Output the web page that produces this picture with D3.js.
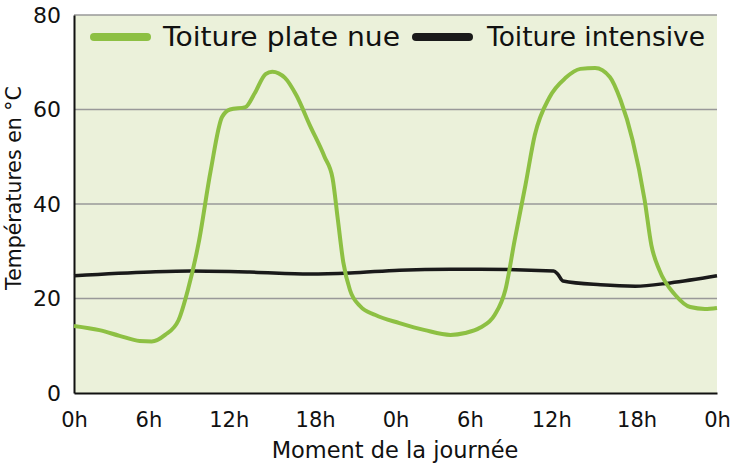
<!DOCTYPE html>
<html><head><meta charset="utf-8">
<script src="https://cdn.jsdelivr.net/npm/d3@7"></script>
<style>body{margin:0;background:#fff}svg{display:block}text{font-family:"DejaVu Sans",sans-serif;fill:#111}</style>
</head><body><svg id="c" width="733" height="468"></svg>
<script>
const xTickValues = [0, 6, 12, 18, 24, 30, 36, 42, 48];
const xTickLabels = ["0h", "6h", "12h", "18h", "0h", "6h", "12h", "18h", "0h"];
const yTickValues = [0, 20, 40, 60, 80];
const seriesNames = ["Toiture plate nue", "Toiture intensive"];
const seriesColors = ["#8dc043", "#1a1a1a"];
const plateHours = [0, 1.9, 3.4, 4.9, 5.8, 6.8, 7.8, 8.5, 9.3, 10.2, 11.05, 11.65, 12.8, 13.5, 14.3, 14.8, 15.75, 16.6, 17.6, 18.7, 19.3, 19.7, 20.1, 20.6, 21.35, 22.5, 24.3, 26.2, 28.1, 29.2, 30.3, 31.4, 32.2, 32.9, 33.7, 34.4, 35.5, 36.7, 37.8, 38.9, 40, 40.8, 41.7, 42.6, 43.1, 43.7, 44.9, 46, 47.1, 48];
const plateTemps = [14.2, 13.3, 12.1, 11, 10.9, 12.3, 15.4, 21.8, 31.7, 47, 58.4, 60, 60.5, 63.5, 67.5, 68, 66.7, 63, 56.7, 50, 45.5, 36.6, 27.7, 21.8, 18.4, 16.5, 14.8, 13.3, 12.3, 12.7, 13.8, 16.5, 21.8, 32.4, 44, 54.6, 62.6, 66.7, 68.6, 68.8, 66.9, 62, 53.5, 40.8, 31.3, 26, 20.7, 18.2, 17.8, 18];
const intensiveHours = [0, 5.7, 8.7, 13.1, 17.6, 20.6, 24.3, 28.1, 30.3, 35.8, 36.1, 36.5, 39.3, 41.9, 44.5, 48];
const intensiveTemps = [24.8, 25.6, 25.8, 25.6, 25.2, 25.4, 26, 26.2, 26.2, 25.8, 25.2, 23.7, 22.9, 22.6, 23.3, 24.8];

const svg = d3.select("#c");
const L = 74, R = 717, T = 15, B = 393;
const x = d3.scaleLinear().domain([0, 48]).range([L, R]);
const y = d3.scaleLinear().domain([0, 80]).range([B, T]);

svg.append("rect").attr("x", L).attr("y", T).attr("width", R - L).attr("height", B - T).attr("fill", "#ebf1da");
svg.append("line").attr("x1", L).attr("x2", R).attr("y1", T).attr("y2", T).attr("stroke", "#999").attr("stroke-width", 1.5);
svg.append("g").selectAll("line").data(yTickValues.filter(v => v > 0 && v < 80)).join("line")
  .attr("x1", L).attr("x2", R).attr("y1", d => y(d)).attr("y2", d => y(d)).attr("stroke", "#999").attr("stroke-width", 1.5);

const yAxis = d3.axisLeft(y).tickValues(yTickValues).tickSize(0).tickPadding(13);
const ga = svg.append("g").attr("transform", `translate(${L},0)`).call(yAxis);
ga.select(".domain").attr("stroke", "#111").attr("stroke-width", 2);
ga.selectAll("text").attr("font-size", 22).attr("font-family", "DejaVu Sans").attr("fill", "#1a1a1a");

const labelShift = [0, -6, -6, 0, 0, -6, -5, 0, 0];
const xAxis = d3.axisBottom(x).tickValues(xTickValues).tickSize(0).tickPadding(19).tickFormat((d, i) => xTickLabels[i]);
const gx = svg.append("g").attr("transform", `translate(0,${B})`).call(xAxis);
gx.select(".domain").attr("stroke", "#111").attr("stroke-width", 2);
gx.selectAll("text").attr("font-size", 21).attr("font-family", "DejaVu Sans").attr("fill", "#1a1a1a")
  .attr("dx", (d, i) => labelShift[i]);

const line = d3.line().x(d => x(d[0])).y(d => y(d[1])).curve(d3.curveMonotoneX);
svg.append("path").datum(intensiveHours.map((h, i) => [h, intensiveTemps[i]])).attr("d", line)
  .attr("fill", "none").attr("stroke", seriesColors[1]).attr("stroke-width", 3.5);
svg.append("path").datum(plateHours.map((h, i) => [h, plateTemps[i]])).attr("d", line)
  .attr("fill", "none").attr("stroke", seriesColors[0]).attr("stroke-width", 4);

const leg = [{x0: 90, tx: 163, w: 237}, {x0: 412, tx: 487, w: 218}];
leg.forEach((p, i) => {
  svg.append("line").attr("x1", p.x0 + 4).attr("x2", p.x0 + 57).attr("y1", 37).attr("y2", 37)
    .attr("stroke", seriesColors[i]).attr("stroke-width", 8).attr("stroke-linecap", "round");
  svg.append("text").attr("x", p.tx).attr("y", 46).attr("font-size", 26)
    .attr("textLength", p.w).attr("lengthAdjust", "spacingAndGlyphs").text(seriesNames[i]);
});

svg.append("text").attr("transform", "translate(21,188) rotate(-90)").attr("text-anchor", "middle").attr("font-size", 20.5)
  .attr("fill", "#1a1a1a").text("Températures en °C");
svg.append("text").attr("x", 395).attr("y", 458).attr("text-anchor", "middle").attr("font-size", 22.5).attr("fill", "#222").text("Moment de la journée");
</script></body></html>
